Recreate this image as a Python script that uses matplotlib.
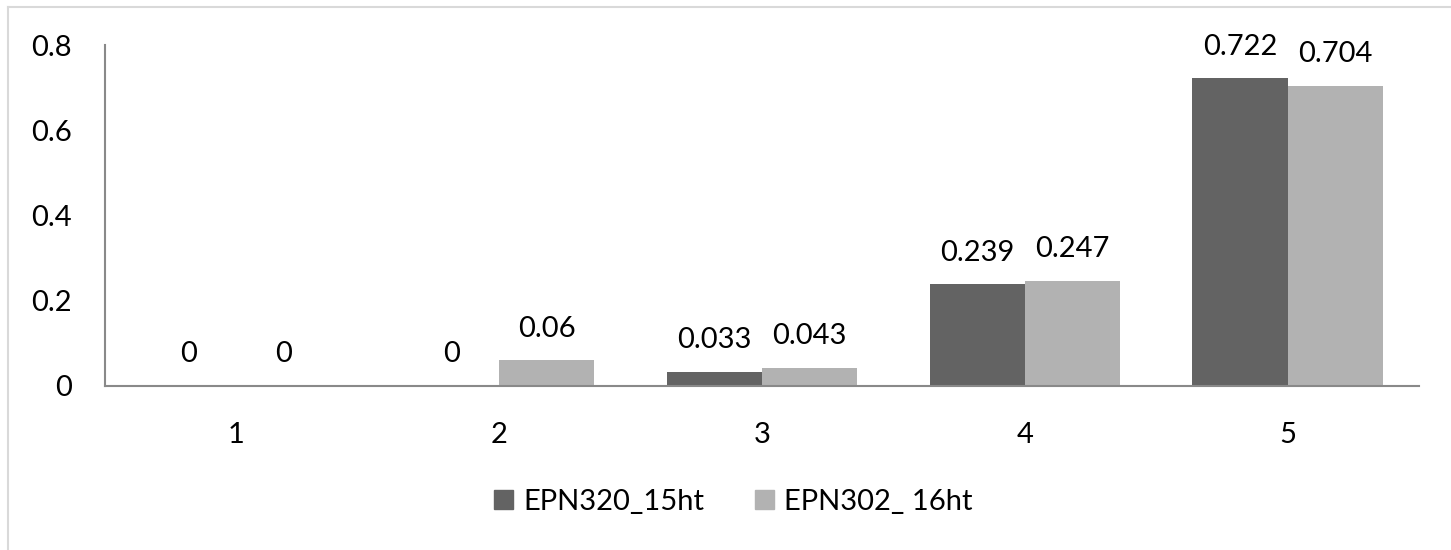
import matplotlib.pyplot as plt
import numpy as np
from matplotlib.patches import Patch
from matplotlib.lines import Line2D

plt.rcParams["font.family"] = ["Lato", "DejaVu Sans"]

categories = ["1", "2", "3", "4", "5"]
series_names = ["EPN320_15ht", "EPN302_ 16ht"]
epn320_15ht = [0, 0, 0.033, 0.239, 0.722]
epn302_16ht = [0, 0.06, 0.043, 0.247, 0.704]
value_labels_320 = ["0", "0", "0.033", "0.239", "0.722"]
value_labels_302 = ["0", "0.06", "0.043", "0.247", "0.704"]
y_ticks = [0, 0.2, 0.4, 0.6, 0.8]
y_tick_labels = ["0", "0.2", "0.4", "0.6", "0.8"]

dark = "#636363"
light = "#b2b2b2"
axis_color = "#898989"
fs = 21

fig = plt.figure(figsize=(14.51, 5.5), dpi=100)
ax = fig.add_axes([105 / 1451, 164 / 550, (1419 - 105) / 1451, (386 - 45) / 550])

x = np.arange(len(categories))
w = 0.362
bars1 = ax.bar(x - w / 2, epn320_15ht, w, color=dark, label=series_names[0])
bars2 = ax.bar(x + w / 2, epn302_16ht, w, color=light, label=series_names[1])

for bars, labels in ((bars1, value_labels_320), (bars2, value_labels_302)):
    for b, lab in zip(bars, labels):
        ax.annotate(
            lab,
            (b.get_x() + b.get_width() / 2, b.get_height()),
            xytext=(0, 17),
            textcoords="offset points",
            ha="center",
            va="baseline",
            fontsize=fs,
        )

ax.set_xlim(-0.5, len(categories) - 0.5)
ax.set_ylim(0, 0.8)
ax.set_yticks(y_ticks)
ax.set_yticklabels(y_tick_labels)
ax.set_xticks(x)
ax.set_xticklabels(categories)
ax.tick_params(axis="y", length=0, pad=24, labelsize=fs)
ax.tick_params(axis="x", length=0, pad=26, labelsize=fs)

for side in ("top", "right"):
    ax.spines[side].set_visible(False)
for side in ("left", "bottom"):
    ax.spines[side].set_color(axis_color)
    ax.spines[side].set_linewidth(1.5)

handles = [Patch(color=dark), Patch(color=light)]
fig.legend(
    handles,
    series_names,
    loc="center left",
    bbox_to_anchor=(494 / 1451, 1 - 502 / 550),
    ncol=2,
    frameon=False,
    fontsize=fs,
    handlelength=0.65,
    handleheight=0.65,
    handletextpad=0.35,
    columnspacing=1.75,
    borderpad=0,
    borderaxespad=0,
)

# outer chart border (top and left edges visible)
fig.add_artist(Line2D([8 / 1451, 1.0], [1 - 7 / 550, 1 - 7 / 550], color="#d9d9d9", lw=1.5))
fig.add_artist(Line2D([8 / 1451, 8 / 1451], [0, 1 - 7 / 550], color="#d9d9d9", lw=1.5))

fig.savefig("out.png", dpi=100)
